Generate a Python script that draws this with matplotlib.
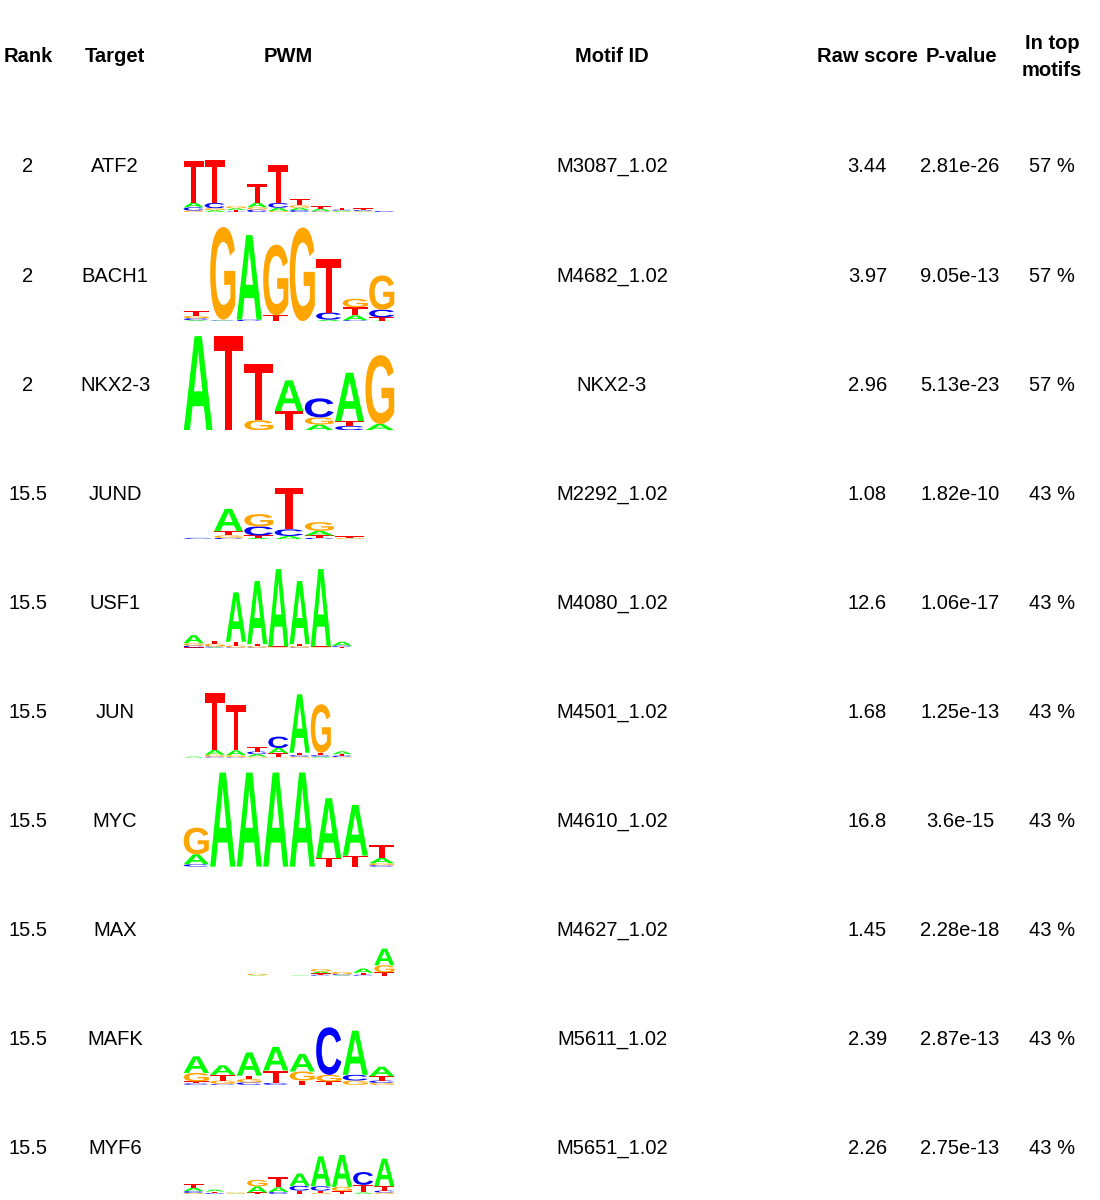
import numpy as np
import matplotlib.pyplot as plt
from matplotlib.textpath import TextPath
from matplotlib.patches import PathPatch
from matplotlib.font_manager import FontProperties
from matplotlib.transforms import Affine2D

plt.rcParams['font.family'] = ['Liberation Sans', 'DejaVu Sans']

# table columns
ranks = ["2", "2", "2", "15.5", "15.5", "15.5", "15.5", "15.5", "15.5", "15.5"]
targets = ["ATF2", "BACH1", "NKX2-3", "JUND", "USF1", "JUN", "MYC", "MAX", "MAFK", "MYF6"]
motif_ids = ["M3087_1.02", "M4682_1.02", "NKX2-3", "M2292_1.02", "M4080_1.02",
             "M4501_1.02", "M4610_1.02", "M4627_1.02", "M5611_1.02", "M5651_1.02"]
raw_scores = ["3.44", "3.97", "2.96", "1.08", "12.6", "1.68", "16.8", "1.45", "2.39", "2.26"]
p_values = ["2.81e-26", "9.05e-13", "5.13e-23", "1.82e-10", "1.06e-17",
            "1.25e-13", "3.6e-15", "2.28e-18", "2.87e-13", "2.75e-13"]
in_top = ["57 %", "57 %", "57 %", "43 %", "43 %", "43 %", "43 %", "43 %", "43 %", "43 %"]

# letter heights in bits per position, order A C G T
atf2 = [[.10, .07, .03, .88], [.04, .11, .04, .90], [.04, .01, .04, .03],
        [.10, .05, .05, .40], [.07, .10, .02, .79], [.05, .04, .05, .13],
        [.05, .01, .01, .05], [.02, .02, .01, .04], [.01, .02, .01, .04],
        [.00, .02, .00, .00]]
bach1 = [[.02, .04, .05, .10], [.01, .01, 1.95, .01], [1.78, .03, .00, .00],
         [.00, .00, 1.49, .12], [.00, .00, 1.97, .00], [.03, .15, .00, 1.12],
         [.10, .02, .18, .17], [.01, .16, .72, .07]]
nkx2_3 = [[1.98, .00, .00, .00], [.00, .00, .00, 1.98], [.00, .00, .21, 1.18],
          [.65, .00, .00, .40], [.12, .40, .15, .00], [1.02, .09, .00, .10],
          [.13, .00, 1.45, .00]]
jund = [[.01, .02, .00, .00], [.47, .03, .05, .09], [.03, .19, .26, .05],
        [.07, .14, .00, .88], [.10, .03, .18, .05], [.01, .00, .02, .03],
        [.00, .00, .00, .00]]
usf1 = [[.17, .04, .05, .02], [.02, .02, .06, .065], [1.04, .02, .04, .08],
        [1.33, .02, .03, .04], [1.63, .01, .01, .02], [1.33, .02, .03, .04],
        [1.63, .01, .01, .02], [.08, .03, .01, .02], [0, 0, 0, 0], [0, 0, 0, 0]]
jun = [[.02, .00, .00, .00], [.10, .02, .04, 1.19], [.10, .01, .04, .96],
       [.05, .055, .02, .10], [.11, .24, .01, .08], [1.23, .03, .02, .05],
       [.02, .03, 1.02, .05], [.06, .03, .01, .03], [0, 0, 0, 0], [0, 0, 0, 0]]
myc = [[.21, .05, .56, .00], [1.98, 0, 0, 0], [1.98, 0, 0, 0], [1.98, 0, 0, 0],
       [1.98, 0, 0, 0], [1.26, .00, .00, .18], [1.07, .00, .00, .23],
       [.11, .03, .04, .28]]
max_ = [[0, 0, 0, 0], [0, 0, 0, 0], [0, 0, 0, 0], [.01, .00, .03, .00],
        [0, 0, 0, 0], [.01, .00, .00, .00], [.04, .02, .05, .03],
        [.01, .02, .05, .00], [.09, .02, .00, .04], [.35, .00, .15, .07]]
mafk = [[.35, .03, .18, .04], [.20, .02, .07, .12], [.49, .05, .07, .072],
        [.50, .04, .00, .26], [.37, .00, .19, .09], [.00, 1.00, .14, .07],
        [.93, .12, .09, .00], [.20, .05, .04, .09]]
myf6 = [[.07, .04, .02, .075], [.04, .02, .00, .03], [.01, .00, .02, .00],
        [.13, .00, .135, .03], [.10, .04, .00, .21], [.26, .10, .00, .07],
        [.63, .09, .02, .05], [.67, .00, .09, .06], [.03, .27, .00, .16],
        [.58, .04, .03, .09]]
pwms = [atf2, bach1, nkx2_3, jund, usf1, jun, myc, max_, mafk, myf6]

bases = ["A", "C", "G", "T"]
base_colors = {"A": "#00FF00", "C": "#0000FF", "G": "#FFA500", "T": "#FF0000"}

W, H = 1100, 1200
fig = plt.figure(figsize=(W / 100, H / 100), dpi=100)
ax = fig.add_axes([0, 0, 1, 1])
ax.set_xlim(0, W)
ax.set_ylim(H, 0)
ax.axis('off')

fs = 14.5
hy = 57
# header
ax.text(28, hy, "Rank", ha='center', va='center', fontsize=fs, fontweight='bold')
ax.text(115, hy, "Target", ha='center', va='center', fontsize=fs, fontweight='bold')
ax.text(288, hy, "PWM", ha='center', va='center', fontsize=fs, fontweight='bold')
ax.text(612, hy, "Motif ID", ha='center', va='center', fontsize=fs, fontweight='bold')
ax.text(867, hy, "Raw score", ha='center', va='center', fontsize=fs, fontweight='bold')
ax.text(961, hy, "P-value", ha='center', va='center', fontsize=fs, fontweight='bold')
ax.text(1052, hy, "In top\nmotifs", ha='center', va='center', fontsize=fs,
        fontweight='bold', linespacing=1.55)

row_y0, row_dy = 167, 109.1
letter_font = FontProperties(family='Liberation Sans', weight='bold')
glyphs = {b: TextPath((0, 0), b, size=1, prop=letter_font) for b in bases}


def draw_logo(lax, pwm):
    n = len(pwm)
    lax.set_xlim(0.5, n + 0.5)
    lax.set_ylim(0, 2)
    lax.axis('off')
    for i, col in enumerate(pwm):
        order = np.argsort(col, kind='stable')
        y = 0.0
        for k in order:
            h = col[k]
            if h <= 0:
                continue
            g = glyphs[bases[k]]
            ext = g.get_extents()
            tr = (Affine2D().translate(-ext.x0, -ext.y0)
                  .scale(0.95 / ext.width, h / ext.height)
                  .translate(i + 1 - 0.475, y))
            lax.add_patch(PathPatch(g, transform=tr + lax.transData,
                                    facecolor=base_colors[bases[k]], edgecolor='none'))
            y += h


for r in range(len(targets)):
    y = row_y0 + r * row_dy
    ax.text(28, y, ranks[r], ha='center', va='center', fontsize=fs)
    ax.text(115, y, targets[r], ha='center', va='center', fontsize=fs)
    ax.text(612, y, motif_ids[r], ha='center', va='center', fontsize=fs)
    ax.text(887, y, raw_scores[r], ha='right', va='center', fontsize=fs)
    ax.text(960, y, p_values[r], ha='center', va='center', fontsize=fs)
    ax.text(1052, y, in_top[r], ha='center', va='center', fontsize=fs)
    # logo box: 183..395 px wide, 2 bits = 95 px, baseline 45 px under the text centre
    lax = fig.add_axes([183 / W, 1 - (y + 45) / H, 212 / W, 95 / H])
    draw_logo(lax, pwms[r])

fig.savefig("out.png", dpi=100)
